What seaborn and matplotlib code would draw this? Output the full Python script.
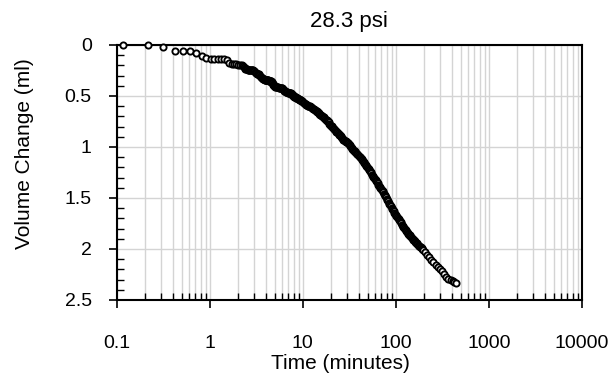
import numpy as np
import pandas as pd
import matplotlib
matplotlib.use("Agg")
import matplotlib.pyplot as plt
from matplotlib.ticker import LogLocator, FixedLocator, MultipleLocator, FuncFormatter, NullFormatter
import seaborn as sns

# Consolidation reading at 28.3 psi: elapsed time (minutes) and volume change (ml)
# Main log of readings
time_min = [
    0.117, 0.217, 0.317, 0.417, 0.517, 0.617, 0.717, 0.817, 0.917, 1.017,
    1.117, 1.217, 1.317, 1.417, 1.517, 1.617, 1.717, 1.817, 1.917, 2.017,
    2.117, 2.217, 2.317, 2.417, 2.517, 2.617, 2.717, 2.817, 2.917, 3.017,
    3.117, 3.217, 3.317, 3.417, 3.517, 3.617, 3.717, 3.817, 3.917, 4.017,
    4.117, 4.217, 4.317, 4.417, 4.517, 4.617, 4.717, 4.817, 4.917, 5.017,
    5.117, 5.317, 5.517, 5.717, 5.917, 6.117, 6.317, 6.517, 6.717, 6.917,
    7.117, 7.317, 7.517, 7.717, 7.917, 8.117, 8.317, 8.517, 8.717, 8.917,
    9.117, 9.317, 9.517, 9.717,
    10.0, 10.4, 10.7, 11.1, 11.5, 11.9, 12.3, 12.7, 13.2, 13.6,
    14.1, 14.6, 15.1, 15.6, 16.2, 16.8, 17.4, 18.0, 18.6, 19.3,
    20.0, 20.7, 21.4, 22.2, 23.0, 23.8, 24.6, 25.5, 26.4, 27.3,
    28.3, 29.3, 30.3, 31.4, 32.5, 33.6, 34.8, 36.0, 37.3, 38.6,
    40.0, 41.4, 42.8, 44.3, 45.9, 47.5, 49.2, 50.9, 52.7, 54.6,
    56.5, 58.5, 60.5, 62.7, 64.9, 67.2, 69.5, 72.0, 74.5, 77.1,
    79.8, 82.6, 85.5, 88.5, 91.6, 94.8, 98.2, 101.6, 105.2, 108.9,
    112.7, 116.7, 120.8, 125.0, 129.4, 134.0, 138.7, 143.6, 148.6, 153.8,
    159.2, 164.8, 170.6, 176.6, 182.8, 189.2,
    196, 206, 217, 228, 241, 254, 268, 283, 298, 314,
    331, 349, 368, 388, 409, 425, 441,
]
volume_ml = [
    0.00, 0.00, 0.02, 0.06, 0.06, 0.06, 0.08, 0.11, 0.13, 0.14,
    0.14, 0.14, 0.14, 0.14, 0.15, 0.18, 0.19, 0.19, 0.19, 0.20,
    0.20, 0.20, 0.22, 0.24, 0.24, 0.25, 0.25, 0.25, 0.25, 0.26,
    0.27, 0.28, 0.28, 0.29, 0.31, 0.32, 0.33, 0.33, 0.34, 0.34,
    0.34, 0.34, 0.35, 0.35, 0.35, 0.36, 0.37, 0.39, 0.40, 0.41,
    0.41, 0.41, 0.42, 0.42, 0.42, 0.43, 0.45, 0.46, 0.46, 0.47,
    0.47, 0.47, 0.48, 0.49, 0.50, 0.51, 0.51, 0.52, 0.52, 0.53,
    0.53, 0.54, 0.54, 0.55,
    0.56, 0.57, 0.58, 0.59, 0.60, 0.60, 0.61, 0.62, 0.63, 0.64,
    0.65, 0.66, 0.68, 0.69, 0.70, 0.71, 0.73, 0.74, 0.75, 0.77,
    0.79, 0.80, 0.82, 0.83, 0.85, 0.86, 0.88, 0.89, 0.91, 0.93,
    0.94, 0.95, 0.96, 0.97, 0.99, 1.01, 1.03, 1.04, 1.06, 1.07,
    1.09, 1.10, 1.12, 1.14, 1.16, 1.18, 1.20, 1.22, 1.24, 1.26,
    1.28, 1.30, 1.32, 1.34, 1.37, 1.39, 1.41, 1.43, 1.46, 1.48,
    1.51, 1.53, 1.56, 1.58, 1.61, 1.63, 1.66, 1.68, 1.70, 1.72,
    1.74, 1.76, 1.78, 1.80, 1.82, 1.84, 1.86, 1.87, 1.89, 1.91,
    1.92, 1.94, 1.95, 1.97, 1.98, 1.99,
    2.01, 2.03, 2.06, 2.08, 2.11, 2.13, 2.16, 2.18, 2.20, 2.22,
    2.25, 2.27, 2.29, 2.30, 2.31, 2.32, 2.33,
]

# Extra readings taken between the main ones during primary consolidation
time_extra = [
    2.267, 2.367, 2.467, 2.567, 2.667, 2.767, 2.867, 2.967, 3.067, 3.167,
    3.267, 3.367, 3.467, 3.567, 3.667, 3.767, 3.867, 3.967, 4.067, 4.167,
    4.267, 4.367, 4.467, 4.567, 4.667, 4.767, 4.867, 4.967,
    5.217, 5.417, 5.617, 5.817, 6.017, 6.217, 6.417, 6.617, 6.817, 7.017,
    7.217, 7.417, 7.617, 7.817, 8.017, 8.217, 8.417, 8.617, 8.817, 9.017,
    9.217, 9.417, 9.617, 9.817,
    10.2, 10.55, 10.9, 11.3, 11.7, 12.1, 12.5, 12.95, 13.4, 13.85,
    14.35, 14.85, 15.35, 15.9, 16.5, 17.1, 17.7, 18.3, 18.95, 19.65,
    20.35, 21.05, 21.8, 22.6, 23.4, 24.2, 25.05, 25.95, 26.85, 27.8,
    28.8, 29.8, 30.85, 31.95, 33.05, 34.2, 35.4, 36.65, 37.95, 39.3,
    40.7, 42.1, 43.55, 45.1, 46.7, 48.35, 50.05, 51.8, 53.65, 55.55,
    57.5, 59.5, 61.6, 63.8, 66.05, 68.35, 70.75, 73.25, 75.8, 78.45,
    81.2, 84.05, 87.0, 90.05, 93.2, 96.5, 99.9, 103.4, 107.05, 110.8,
    114.7, 118.75, 122.9, 127.2, 131.7, 136.35, 141.15, 146.1, 151.2, 156.5,
    162.0, 167.7, 173.6, 179.7, 186.0, 192.6,
]
volume_extra = [
    0.21, 0.23, 0.24, 0.245, 0.25, 0.25, 0.25, 0.255, 0.265, 0.275,
    0.28, 0.285, 0.30, 0.315, 0.325, 0.33, 0.335, 0.34, 0.34, 0.34,
    0.345, 0.35, 0.35, 0.355, 0.365, 0.38, 0.395, 0.405,
    0.41, 0.415, 0.42, 0.42, 0.425, 0.44, 0.455, 0.46, 0.465, 0.47,
    0.47, 0.475, 0.485, 0.495, 0.505, 0.51, 0.515, 0.52, 0.525, 0.53,
    0.535, 0.54, 0.545, 0.55,
    0.565, 0.575, 0.585, 0.595, 0.60, 0.605, 0.615, 0.625, 0.635, 0.645,
    0.655, 0.67, 0.685, 0.695, 0.705, 0.72, 0.735, 0.745, 0.76, 0.78,
    0.795, 0.81, 0.825, 0.84, 0.855, 0.87, 0.885, 0.90, 0.92, 0.935,
    0.945, 0.955, 0.965, 0.98, 1.00, 1.02, 1.035, 1.05, 1.065, 1.08,
    1.095, 1.11, 1.13, 1.15, 1.17, 1.19, 1.21, 1.23, 1.25, 1.27,
    1.29, 1.31, 1.33, 1.355, 1.38, 1.40, 1.42, 1.445, 1.47, 1.495,
    1.52, 1.545, 1.57, 1.595, 1.62, 1.645, 1.67, 1.69, 1.71, 1.73,
    1.75, 1.77, 1.79, 1.81, 1.83, 1.85, 1.865, 1.88, 1.90, 1.915,
    1.93, 1.945, 1.96, 1.975, 1.985, 2.00,
]

x_ticks = [0.1, 1, 10, 100, 1000, 10000]
y_ticks = [0, 0.5, 1, 1.5, 2, 2.5]

df = pd.DataFrame({
    "Time (minutes)": time_min + time_extra,
    "Volume Change (ml)": volume_ml + volume_extra,
}).sort_values("Time (minutes)")

sns.set_theme(style="white")
plt.rcParams["font.family"] = ["Liberation Sans", "DejaVu Sans"]
plt.rcParams["text.color"] = "black"
plt.rcParams["axes.labelcolor"] = "black"
plt.rcParams["xtick.color"] = "black"
plt.rcParams["ytick.color"] = "black"

fig = plt.figure(figsize=(6.15, 3.81), dpi=100)
ax = fig.add_axes([0.190, 0.2126, 0.756, 0.6694])

sns.scatterplot(
    data=df, x="Time (minutes)", y="Volume Change (ml)", ax=ax,
    marker="o", s=20, facecolor="white", edgecolor="black", linewidth=1.35,
    zorder=3, clip_on=False,
)

ax.set_xscale("log")
ax.set_xlim(0.1, 10000)
ax.set_ylim(2.5, 0)

ax.xaxis.set_major_locator(FixedLocator(x_ticks))
ax.xaxis.set_minor_locator(LogLocator(base=10, subs=np.arange(2, 10)))
ax.xaxis.set_major_formatter(FuncFormatter(lambda v, p: f"{v:g}"))
ax.xaxis.set_minor_formatter(NullFormatter())
ax.yaxis.set_major_locator(FixedLocator(y_ticks))
ax.yaxis.set_minor_locator(MultipleLocator(0.1))
ax.yaxis.set_major_formatter(FuncFormatter(lambda v, p: f"{v:g}"))

grid_color = "#d4d4d4"
ax.grid(True, which="major", axis="both", color=grid_color, linewidth=1.0, zorder=0)
ax.grid(True, which="minor", axis="x", color=grid_color, linewidth=1.0, zorder=0)
ax.set_axisbelow(True)

ax.tick_params(axis="x", which="major", direction="out", length=6, width=1.2,
               color="black", labelcolor="black", labelsize=14, pad=19, bottom=True)
ax.tick_params(axis="y", which="major", direction="out", length=6, width=1.2,
               color="black", labelcolor="black", labelsize=14, pad=12, left=True)
ax.tick_params(axis="both", which="minor", direction="in", length=5, width=1.0,
               color="black", bottom=True, left=True)

for side in ["left", "bottom", "top", "right"]:
    ax.spines[side].set_visible(True)
    ax.spines[side].set_color("black")
    ax.spines[side].set_linewidth(1.5)

ax.set_xlabel("Time (minutes)", fontsize=15, color="black")
ax.set_ylabel("Volume Change (ml)", fontsize=15, color="black")
ax.xaxis.set_label_coords(0.481, -0.212)
ax.yaxis.set_label_coords(-0.178, 0.575)
ax.set_title("28.3 psi", fontsize=16, pad=13, color="black")

fig.savefig("out.png", dpi=100)
